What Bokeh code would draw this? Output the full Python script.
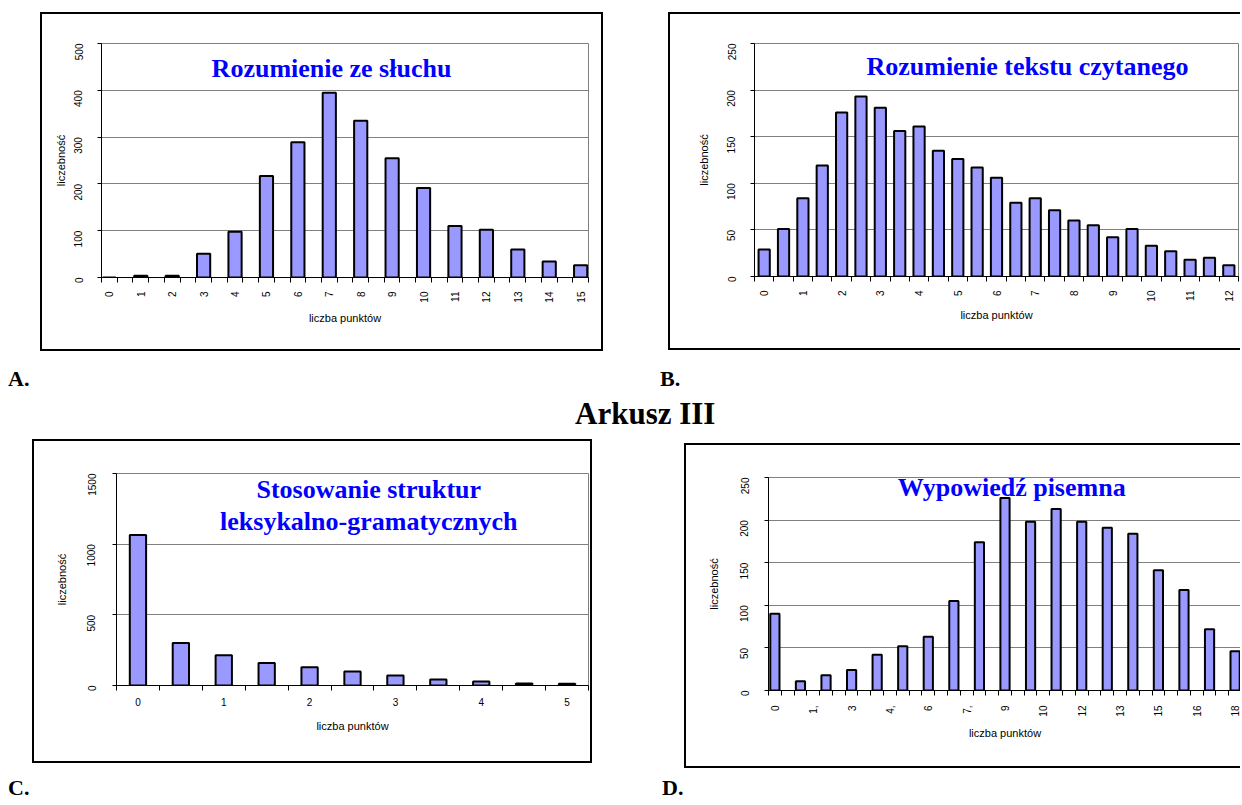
import math
from bokeh.plotting import figure
from bokeh.models import Range1d, FixedTicker, Label, Div
from bokeh.layouts import row, column
from bokeh.embed import file_html
from bokeh.resources import INLINE

# ---------------- data ----------------
a_points = [0, 1, 2, 3, 4, 5, 6, 7, 8, 9, 10, 11, 12, 13, 14, 15]
a_counts = [0, 4, 4, 51, 98, 217, 289, 395, 335, 255, 191, 110, 102, 60, 34, 26]
a_tick_pos = [0, 1, 2, 3, 4, 5, 6, 7, 8, 9, 10, 11, 12, 13, 14, 15]
a_tick_text = ["0", "1", "2", "3", "4", "5", "6", "7", "8", "9", "10", "11", "12", "13", "14", "15"]

b_points = [0, 0.5, 1, 1.5, 2, 2.5, 3, 3.5, 4, 4.5, 5, 5.5, 6, 6.5, 7, 7.5, 8, 8.5,
            9, 9.5, 10, 10.5, 11, 11.5, 12]
b_counts = [29, 51, 84, 119, 176, 193, 181, 156, 161, 135, 126, 117, 106, 79, 84, 71,
            60, 55, 42, 51, 33, 27, 18, 20, 12]
b_tick_pos = [0, 1, 2, 3, 4, 5, 6, 7, 8, 9, 10, 11, 12]
b_tick_text = ["0", "1", "2", "3", "4", "5", "6", "7", "8", "9", "10", "11", "12"]

c_points = [0, 0.5, 1, 1.5, 2, 2.5, 3, 3.5, 4, 4.5, 5]
c_counts = [1065, 300, 214, 159, 130, 99, 70, 43, 29, 14, 13]
c_tick_pos = [0, 1, 2, 3, 4, 5]
c_tick_text = ["0", "1", "2", "3", "4", "5"]

d_points = [0, 1, 2, 3, 4, 5, 6, 7, 8, 9, 10, 11, 12, 13, 14, 15, 16, 17, 18]
d_counts = [90, 11, 18, 24, 42, 52, 63, 105, 174, 226, 198, 213, 198, 191, 184, 141, 118, 72, 46]
d_tick_pos = [0, 1.5, 3, 4.5, 6, 7.5, 9, 10.5, 12, 13.5, 15, 16.5, 18]
d_tick_text = ["0", "1,", "3", "4,", "6", "7,", "9", "10", "12", "13", "15", "16", "18"]

y_title = "liczebność"
x_title = "liczba punktów"

BAR_FILL = "#9999FF"
GRID = "#808080"
TITLE_BLUE = "#0000FF"


def make_chart(points, counts, bar_w, x_lo, x_hi, y_hi, y_step, tick_pos, tick_text,
               vertical, cw, ch, mb, y_std, y_ax_std, x_std, x_ax_std, titles,
               margin, css):
    p = figure(width=cw, height=ch, x_range=Range1d(x_lo, x_hi), y_range=Range1d(0, y_hi),
               output_backend="svg", toolbar_location=None,
               min_border_left=mb[0], min_border_right=mb[1],
               min_border_top=mb[2], min_border_bottom=mb[3],
               background_fill_color="white", border_fill_color="white",
               outline_line_color=GRID, outline_line_width=1,
               margin=margin, styles=css)
    p.vbar(x=points, top=counts, width=bar_w, fill_color=BAR_FILL,
           line_color="black", line_width=2)
    # y axis
    yt = []
    v = 0
    while v <= y_hi + 1e-9:
        yt.append(v)
        v += y_step
    p.yaxis.ticker = FixedTicker(ticks=yt)
    p.yaxis.major_label_orientation = math.pi / 2
    p.yaxis.major_tick_out = 4
    p.yaxis.major_tick_in = 0
    p.yaxis.minor_tick_out = 0
    p.yaxis.minor_tick_in = 0
    p.yaxis.major_label_standoff = y_std
    p.yaxis.axis_label = y_title
    p.yaxis.axis_label_standoff = y_ax_std
    # x axis
    bounds = []
    b = x_lo
    while b <= x_hi + 1e-9:
        bounds.append(round(b, 4))
        b += 0.5
    p.xaxis.ticker = FixedTicker(ticks=tick_pos, minor_ticks=bounds)
    p.xaxis.major_label_overrides = {t: s for t, s in zip(tick_pos, tick_text)}
    p.xaxis.major_tick_out = 0
    p.xaxis.major_tick_in = 0
    p.xaxis.minor_tick_out = 5
    p.xaxis.minor_tick_in = 0
    p.xaxis.minor_tick_line_color = "black"
    if vertical:
        p.xaxis.major_label_orientation = math.pi / 2
    p.xaxis.major_label_standoff = x_std
    p.xaxis.axis_label = x_title
    p.xaxis.axis_label_standoff = x_ax_std
    for ax in (p.xaxis[0], p.yaxis[0]):
        ax.axis_line_color = "black"
        ax.axis_line_width = 1
        ax.major_tick_line_color = "black"
        ax.major_label_text_font = "Liberation Sans"
        ax.major_label_text_font_size = "10px"
        ax.major_label_text_color = "black"
        ax.axis_label_text_font = "Liberation Sans"
        ax.axis_label_text_font_size = "11px"
        ax.axis_label_text_font_style = "normal"
        ax.axis_label_text_color = "black"
    p.xgrid.visible = False
    p.ygrid.grid_line_color = GRID
    p.ygrid.grid_line_width = 1
    for (tx, ty, txt) in titles:
        p.add_layout(Label(x=tx, y=ty, text=txt, text_font="Liberation Serif",
                           text_font_style="bold", text_font_size="26px",
                           text_color=TITLE_BLUE, text_align="center",
                           text_baseline="middle"))
    return p


full_border = {"border": "2px solid black", "box-sizing": "content-box"}
open_border = {"border-left": "2px solid black", "border-top": "2px solid black",
               "border-bottom": "2px solid black", "box-sizing": "content-box"}

pA = make_chart(a_points, a_counts, 0.42, -0.25, 15.25, 500, 100, a_tick_pos, a_tick_text,
                True, 559, 335, (59, 17, 29, 70), 19, 1, 9, 6,
                [(7.07, 447, "Rozumienie ze słuchu")], (4, 0, 0, 32), full_border)
pB = make_chart(b_points, b_counts, 0.29, -0.25, 12.25, 250, 50, b_tick_pos, b_tick_text,
                True, 570, 334, (84, 4, 29, 76), 19, 11, 9, 4,
                [(6.8, 225, "Rozumienie tekstu czytanego")], (4, 0, 0, 65), open_border)
pC = make_chart(c_points, c_counts, 0.19, -0.25, 5.25, 1500, 500, c_tick_pos, c_tick_text,
                False, 556, 320, (82, 6, 32, 80), 21, 13, 7, 11,
                [(2.69, 1384, "Stosowanie struktur"), (2.69, 1161, "leksykalno-gramatycznych")],
                (10, 0, 0, 24), full_border)
pD = make_chart(d_points, d_counts, 0.36, -0.25, 18.25, 250, 50, d_tick_pos, d_tick_text,
                True, 554, 321, (82, 1, 24, 69), 20, 14, 10, 7,
                [(9.26, 238, "Wypowiedź pisemna")], (14, 0, 0, 92), open_border)


def letter(txt, size, lh, w, margin):
    html = ('<div style="font-family:\'Liberation Serif\';font-weight:bold;'
            'font-size:%dpx;line-height:%dpx;white-space:nowrap;color:black;">%s</div>'
            % (size, lh, txt))
    return Div(text=html, width=w, height=lh, margin=margin)


dA = letter("A.", 22, 22, 40, (17, 0, 0, 0))
dB = letter("B.", 22, 22, 40, (17, 0, 0, 612))
dArk = letter("Arkusz III", 31, 31, 160, (8, 0, 0, 567))
dC = letter("C.", 22, 16, 40, (12, 0, 0, 0))
dD = letter("D.", 22, 16, 40, (12, 0, 0, 614))

layout = column(
    row(pA, pB, margin=0),
    row(dA, dB, margin=0),
    row(dArk, margin=0),
    row(pC, pD, margin=0),
    row(dC, dD, margin=0),
    margin=(8, 0, 0, 8),
)

open("out.html", "w").write(file_html(layout, INLINE))
